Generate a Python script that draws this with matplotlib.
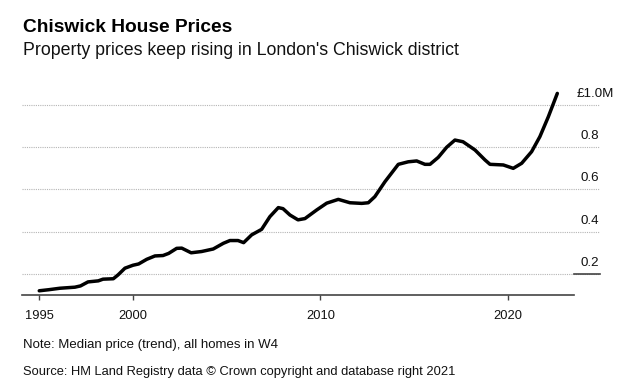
import matplotlib
matplotlib.use("Agg")
import matplotlib.pyplot as plt

# median price trend, W4 (GBP millions)
years = [1995.0, 1995.5, 1996.1, 1996.9, 1997.2, 1997.6, 1998.15, 1998.4,
         1998.95, 1999.2, 1999.57, 2000.0, 2000.3, 2000.73, 2001.17, 2001.6,
         2001.9, 2002.33, 2002.6, 2003.1, 2003.66, 2004.28, 2004.82, 2005.17,
         2005.6, 2005.9, 2006.33, 2006.86, 2007.3, 2007.75, 2008.0, 2008.37,
         2008.8, 2009.17, 2009.8, 2010.33, 2010.95, 2011.57, 2012.2, 2012.55,
         2012.9, 2013.44, 2014.15, 2014.68, 2015.13, 2015.57, 2015.84, 2016.28,
         2016.73, 2017.17, 2017.6, 2018.24, 2018.77, 2019.04, 2019.75, 2020.28,
         2020.73, 2021.26, 2021.7, 2022.15, 2022.63]
prices = [0.120, 0.125, 0.132, 0.137, 0.143, 0.162, 0.167, 0.175,
          0.177, 0.195, 0.227, 0.241, 0.247, 0.269, 0.285, 0.287,
          0.297, 0.321, 0.322, 0.300, 0.306, 0.318, 0.345, 0.358,
          0.358, 0.348, 0.385, 0.411, 0.471, 0.514, 0.509, 0.479,
          0.456, 0.462, 0.503, 0.535, 0.553, 0.537, 0.534, 0.537,
          0.566, 0.637, 0.719, 0.731, 0.735, 0.719, 0.719, 0.752,
          0.800, 0.834, 0.826, 0.787, 0.740, 0.719, 0.716, 0.700,
          0.724, 0.779, 0.850, 0.944, 1.055]

x_ticks = [1995, 2000, 2010, 2020]
y_ticks = [0.2, 0.4, 0.6, 0.8, 1.0]
y_labels = ["0.2", "0.4", "0.6", "0.8", "£1.0M"]

title = "Chiswick House Prices"
subtitle = "Property prices keep rising in London's Chiswick district"
note = "Note: Median price (trend), all homes in W4"
source = "Source: HM Land Registry data © Crown copyright and database right 2021"

plt.rcParams["font.family"] = ["Liberation Sans", "DejaVu Sans"]

W, H = 630, 392
fig = plt.figure(figsize=(W / 100, H / 100), dpi=100)

# axes placed in pixel terms
x0, x1 = 21.7, 600.0
y_top, y_bot = 83.9, 295.0
ax = fig.add_axes([x0 / W, 1 - y_bot / H, (x1 - x0) / W, (y_bot - y_top) / H])

xmin, xmax = 1994.064, 2024.907
ymin, ymax = 0.1, 1.1
ax.set_xlim(xmin, xmax)
ax.set_ylim(ymin, ymax)

for s in ax.spines.values():
    s.set_visible(False)

# dotted gridlines
for v in y_ticks:
    ax.axhline(v, color="#b5b5b5", lw=0.8, ls=(0, (1, 1)), zorder=1)

axis_end = 2023.52
ax.plot([xmin, axis_end], [ymin, ymin], color="#444444", lw=1.2,
        clip_on=False, zorder=2)
ax.plot([axis_end, xmax], [0.2, 0.2], color="#444444", lw=1.2,
        clip_on=False, zorder=2)

ax.plot(years, prices, color="black", lw=2.5, solid_capstyle="round",
        solid_joinstyle="round", zorder=3)

ax.set_yticks([])
ax.set_xticks(x_ticks)
ax.set_xticklabels([str(t) for t in x_ticks], fontsize=9.3, color="#111111")
ax.tick_params(axis="x", length=3.5, width=1, color="#444444", pad=7)

# right side value labels, sitting above their gridlines
px_per_unit = (y_bot - y_top) / (ymax - ymin)
for v, lab in zip(y_ticks, y_labels):
    xl = 2023.68 if lab.startswith("£") else 2023.89
    ax.text(xl, v + 8 / px_per_unit, lab, fontsize=9.6, color="#111111",
            ha="left", va="baseline", clip_on=False)

fig.text(22.7 / W, 1 - 31.7 / H, title, fontsize=13.8, fontweight="bold",
         va="baseline", ha="left")
fig.text(22.7 / W, 1 - 55 / H, subtitle, fontsize=12.8,
         va="baseline", ha="left", color="#111111")
fig.text(22.7 / W, 1 - 348.3 / H, note, fontsize=9.5,
         va="baseline", ha="left", color="#111111")
fig.text(22.7 / W, 1 - 375 / H, source, fontsize=9.3,
         va="baseline", ha="left", color="#111111")

fig.savefig("out.png", dpi=100)
